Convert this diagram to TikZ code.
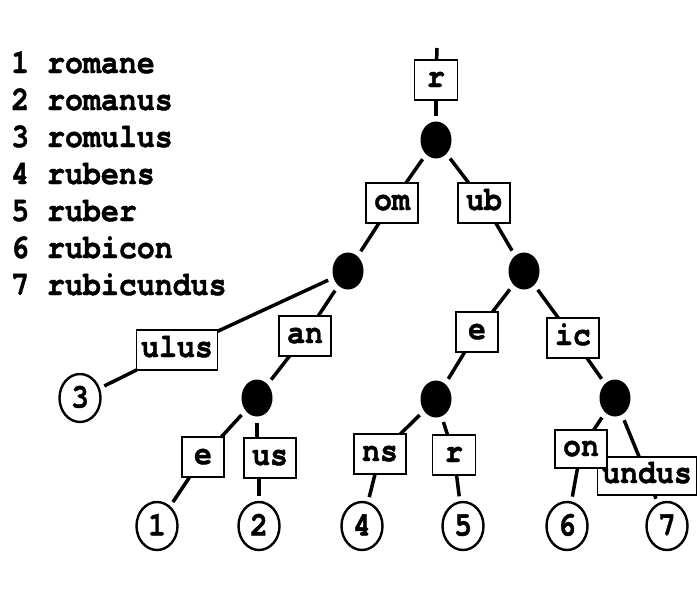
\documentclass[tikz,border=0pt]{standalone}
\usepackage{fontspec}
\setmonofont[FakeStretch=0.88, BoldFeatures={FakeBold=1.2}]{TeX Gyre Cursor}
\usepackage{tikz}
\usetikzlibrary{shapes.geometric}
\tikzstyle{word}=[anchor=base west, inner sep=0pt, font=\ttfamily\bfseries\fontsize{34}{37}\selectfont]
\tikzstyle{bx}=[draw, line width=1.6pt, fill=white, rectangle, minimum width=52pt, minimum height=40pt, inner xsep=4.5pt, text height=14pt, text depth=0pt, outer sep=0pt, font=\ttfamily\bfseries\fontsize{34}{36}\selectfont]
\tikzstyle{branch}=[ellipse, fill=black, minimum width=31pt, minimum height=37pt, inner sep=0pt, outer sep=6pt]
\tikzstyle{leaf}=[ellipse, draw, line width=2.4pt, minimum width=41pt, minimum height=48pt, inner sep=0pt, outer sep=6pt, text height=19pt, text depth=0pt, font=\ttfamily\bfseries\fontsize{34}{36}\selectfont]
\tikzstyle{link}=[line width=3.5pt]

\begin{document}
\begin{tikzpicture}[x=1pt, y=-1pt]
      \useasboundingbox (0, 0) rectangle (700, 600);
      % the seven words
      \node[word] at (11, 73) (w1) {1 romane};
      \node[word] at (11, 110) (w2) {2 romanus};
      \node[word] at (11, 147) (w3) {3 romulus};
      \node[word] at (11, 184) (w4) {4 rubens};
      \node[word] at (11, 221) (w5) {5 ruber};
      \node[word] at (11, 258) (w6) {6 rubicon};
      \node[word] at (11, 295) (w7) {7 rubicundus};
      % the trie
      \coordinate (top) at (437, 48);
      \node[bx, minimum width=43pt] at (436, 80) (r) {r};
      \node[branch] at (436, 140) (d0) {};
      \node[bx] at (392, 203) (om) {om};
      \node[bx] at (484, 203) (ub) {ub};
      \node[branch] at (348, 271) (d1) {};
      \node[branch] at (524, 271) (d2) {};
      \node[bx] at (177, 350) (ulus) {ulus};
      \node[bx] at (305, 336) (an) {an};
      \node[leaf] at (80, 398) (l3) {3};
      \node[branch] at (257, 398) (d3) {};
      \node[bx, minimum width=42pt] at (203, 457) (e1) {e};
      \node[bx] at (270, 458) (us) {us};
      \node[bx, minimum width=42pt] at (477, 332) (e2) {e};
      \node[bx] at (573, 338) (ic) {ic};
      \node[branch] at (436, 399) (d4) {};
      \node[branch] at (615, 398) (d5) {};
      \node[bx] at (380, 454) (ns) {ns};
      \node[bx, minimum width=43pt] at (454, 455) (r2) {r};
      \node[bx, minimum height=38pt] at (647, 476) (undus) {undus};
      \node[bx, minimum height=38pt] at (581, 449) (on) {on};
      \node[leaf] at (157, 526) (l1) {1};
      \node[leaf] at (259, 526) (l2) {2};
      \node[leaf] at (362, 526) (l4) {4};
      \node[leaf] at (463, 526) (l5) {5};
      \node[leaf] at (567, 526) (l6) {6};
      \node[leaf] at (667, 526) (l7) {7};
      % branches
      \draw[link] (top) -- (r);
      \draw[link] (r) -- (d0);
      \draw[link] (d0) -- (om);
      \draw[link] (d0) -- (ub);
      \draw[link] (om) -- (d1);
      \draw[link] (ub) -- (d2);
      \draw[link] (d1) -- (ulus);
      \draw[link] (ulus) -- (l3);
      \draw[link] (d1) -- (an);
      \draw[link] (an) -- (d3);
      \draw[link] (d3) -- (e1);
      \draw[link] (d3) -- (d3 |- us.north);
      \draw[link] (e1) -- (l1);
      \draw[link] (us.south -| l2) -- (l2);
      \draw[link] (d2) -- (e2);
      \draw[link] (d2) -- (ic);
      \draw[link] (e2) -- (d4);
      \draw[link] (d4) -- (ns);
      \draw[link] (d4) -- (r2);
      \draw[link] (ns) -- (l4);
      \draw[link] (r2) -- (l5);
      \draw[link] (ic) -- (d5);
      \draw[link] (d5) -- (on);
      \draw[link] (d5) -- (undus);
      \draw[link] (on) -- (l6);
      \draw[link] (undus) -- (l7);
    \end{tikzpicture}
\end{document}
